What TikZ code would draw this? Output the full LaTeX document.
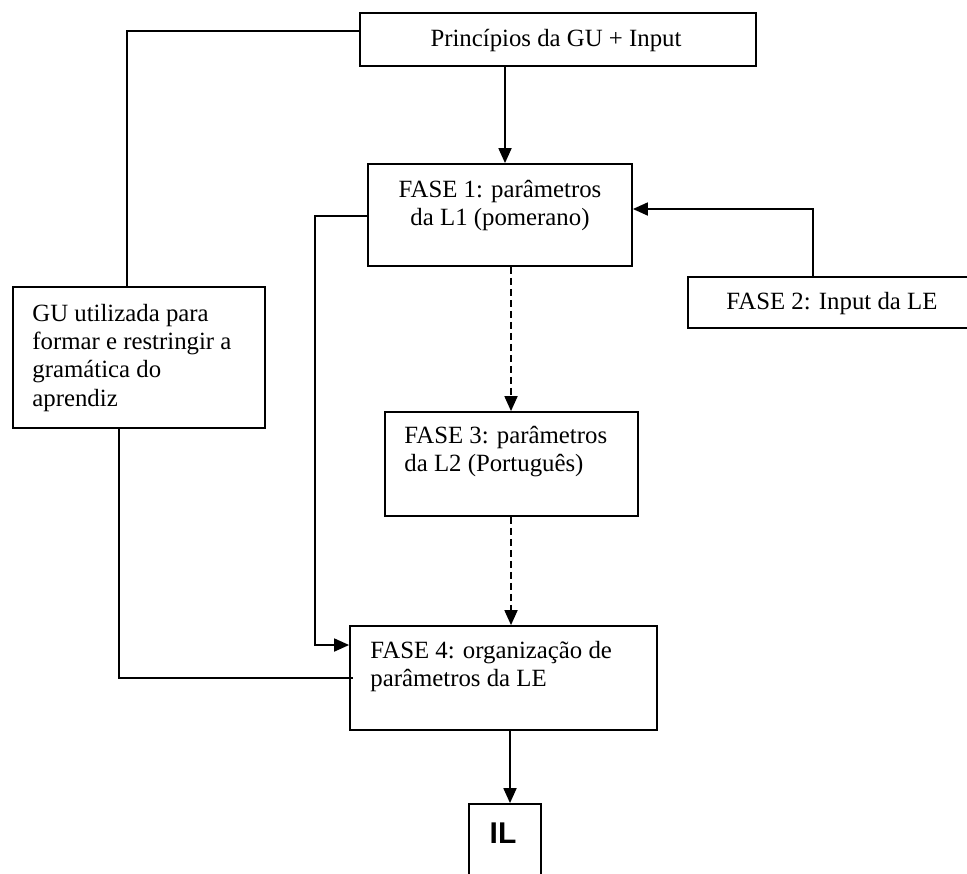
\documentclass[tikz,border=0pt]{standalone}
\usepackage{fontspec}
\setmainfont{Liberation Serif}
\newfontfamily\ilfont{Liberation Sans}
\usetikzlibrary{arrows.meta}
\begin{document}
\begin{tikzpicture}[x=0.5pt,y=-0.5pt,
  frame/.style={draw, line width=0.9pt, inner sep=0pt},
  conn/.style={line width=0.9pt},
  arr/.style={conn, -{Triangle[length=7.5pt,width=6.5pt]}},
  dashline/.style={dash pattern=on 3.5pt off 2pt},
  lbl/.style={inner sep=0pt, font=\fontsize{12.4}{14.2}\selectfont},
]
\useasboundingbox (0,0) rectangle (967,873);
\fill[white] (0,0) rectangle (967,873);
\clip (0,0) rectangle (967,873);

% boxes
\node[frame, minimum width=198pt, minimum height=26.5pt] (pg) at (558,39.5) {};
\node[frame, minimum width=132pt, minimum height=51pt] (f1) at (500,215) {};
\node[frame, minimum width=140.5pt, minimum height=25.5pt] (f2) at (828.5,302.5) {};
\node[frame, minimum width=126pt, minimum height=70.5pt] (gu) at (139,357.5) {};
\node[frame, minimum width=126.5pt, minimum height=52pt] (f3) at (511.5,464) {};
\node[frame, minimum width=153.5pt, minimum height=52pt] (f4) at (503.5,678) {};
\node[frame, minimum width=36pt, minimum height=38pt] (il) at (505,842) {};

% texts
\node[lbl, anchor=base] (tpg) at (556,46) {Princípios da GU + Input};
\node[lbl, anchor=base] (tf1) at (500,197) {\parbox[t]{130pt}{\centering FASE 1: parâmetros\\da L1 (pomerano)}};
\node[lbl, anchor=base west] (tf2) at (726,309) {FASE 2: Input da LE};
\node[lbl, anchor=base west] (tgu) at (32,321) {\parbox[t]{120pt}{\raggedright GU utilizada para\\formar e restringir a\\gramática do\\aprendiz}};
\node[lbl, anchor=base west] (tf3) at (404,443) {\parbox[t]{120pt}{\raggedright FASE 3: parâmetros\\da L2 (Português)}};
\node[lbl, anchor=base west] (tf4) at (370,658) {\parbox[t]{150pt}{\raggedright FASE 4: organização de\\parâmetros da LE}};
\node[inner sep=0pt, anchor=base, font=\fontsize{15}{17}\selectfont\ilfont\bfseries] (til) at (503,843) {IL};

% routing points
\coordinate (xa) at (505,0);
\coordinate (xb) at (511,0);
\coordinate (xc) at (510,0);
\coordinate (k1) at (127,31);
\coordinate (k2) at (315,216);
\coordinate (k3) at (315,645);
\coordinate (k4) at (813,209);
\coordinate (k5) at (119,678);
\coordinate (k6) at (353,678);

% connectors
\draw[arr] (pg.south -| xa) -- (f1.north -| xa);
\draw[conn] (pg.west |- k1) -- (k1) -- (gu.north -| k1);
\draw[arr] (f1.west |- k2) -- (k2) -- (k3) -- (f4.west |- k3);
\draw[arr] (f2.north -| k4) -- (k4) -- (f1.east |- k4);
\draw[arr, dashline] (f1.south -| xb) -- (f3.north -| xb);
\draw[arr, dashline] (f3.south -| xb) -- (f4.north -| xb);
\draw[arr] (f4.south -| xc) -- (il.north -| xc);
\draw[conn] (gu.south -| k5) -- (k5) -- (k6);
\end{tikzpicture}
\end{document}
